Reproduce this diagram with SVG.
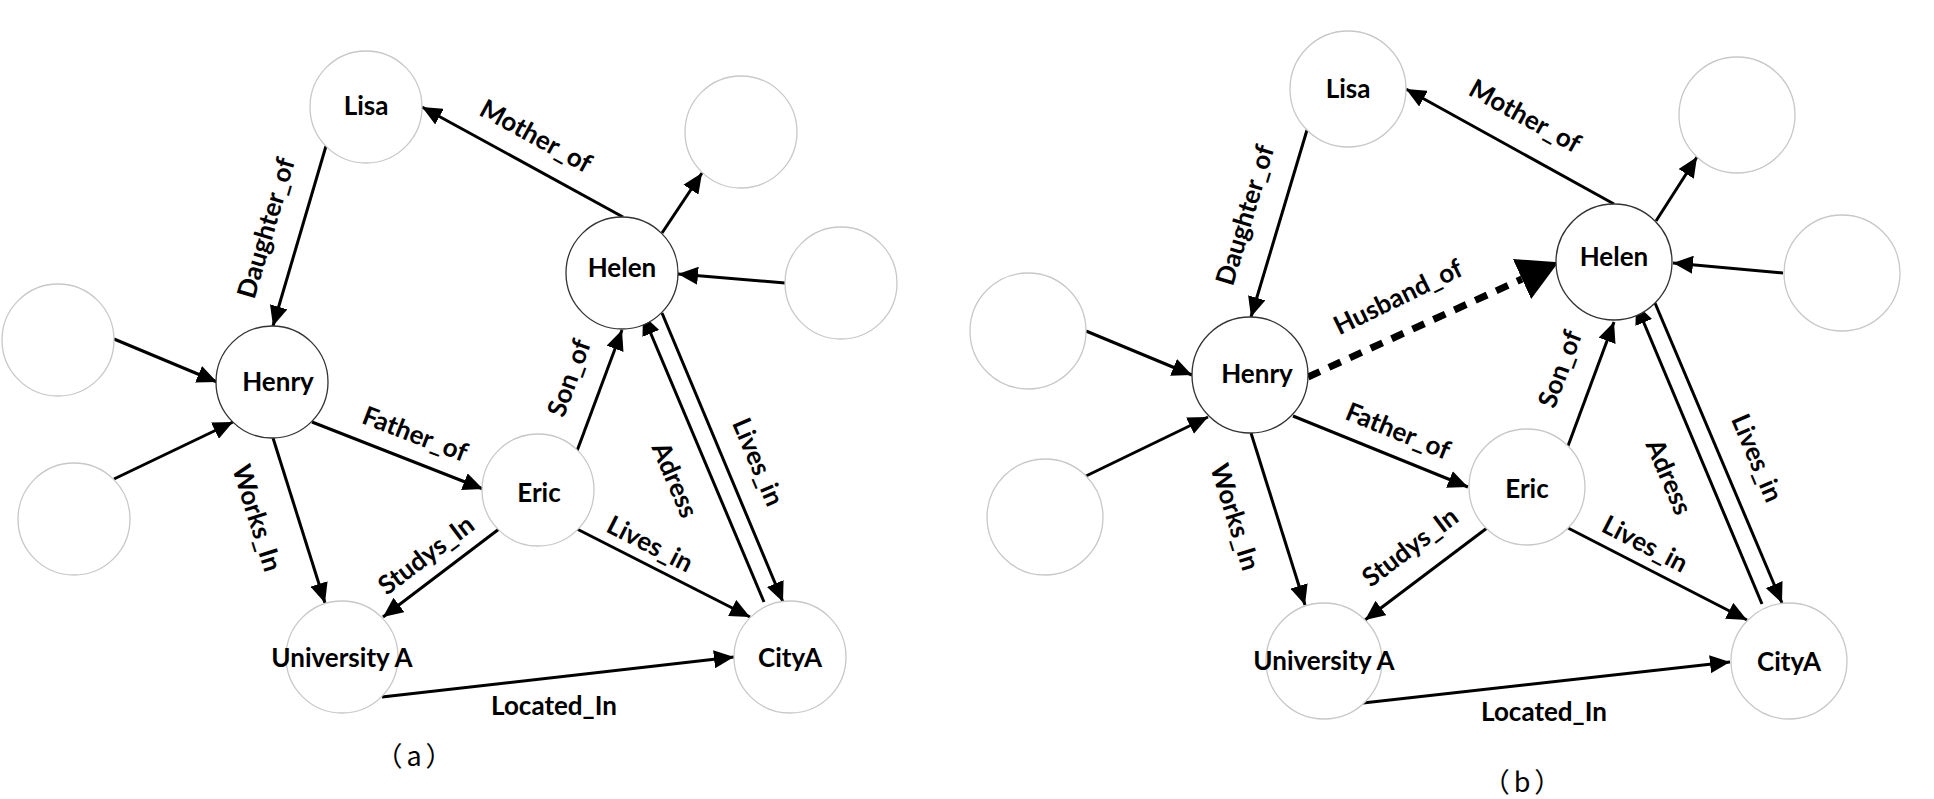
<svg xmlns="http://www.w3.org/2000/svg" width="1934" height="799" viewBox="0 0 1934 799">
<style>
.n{fill:#fff;stroke:#c8c8c8;stroke-width:1.3}
.k{fill:#fff;stroke:#333;stroke-width:1.3}
.t{font-family:Lato,"Liberation Sans",sans-serif;font-weight:bold;font-size:26px;fill:#000;text-anchor:middle}
.e{stroke:#000;stroke-width:3;fill:none;marker-end:url(#ah)}
.d{stroke:#000;stroke-width:7;fill:none;stroke-dasharray:13 10;marker-end:url(#big)}
.c{font-family:"Noto Sans CJK SC","Noto Sans",sans-serif;font-size:27px;fill:#000;text-anchor:middle;letter-spacing:4px}
</style>
<defs>
<marker id="ah" markerUnits="userSpaceOnUse" markerWidth="20" markerHeight="18" refX="20" refY="9" orient="auto" viewBox="0 0 20 18"><path d="M0,0 L20,9 L0,18 z" fill="#000"/></marker>
<marker id="big" markerUnits="userSpaceOnUse" markerWidth="40" markerHeight="44" refX="0" refY="22" orient="auto" viewBox="0 0 40 44"><path d="M0,0 L40,22 L0,44 z" fill="#000"/></marker>
</defs>
<rect width="1934" height="799" fill="#fff"/>

<g id="connectors">
<!-- panel a -->
<line class="e" x1="623" y1="217" x2="422" y2="107"/>
<line class="e" x1="326" y1="146" x2="273" y2="326"/>
<line class="e" x1="114" y1="339" x2="217" y2="382"/>
<line class="e" x1="114" y1="479" x2="233" y2="422"/>
<line class="e" x1="273" y1="438" x2="325" y2="603"/>
<line class="e" x1="312" y1="422" x2="483" y2="489"/>
<line class="e" x1="499" y1="529" x2="383" y2="617"/>
<line class="e" x1="577" y1="529" x2="750" y2="617"/>
<line class="e" x1="382" y1="697" x2="734" y2="657"/>
<line class="e" x1="577" y1="451" x2="622" y2="330"/>
<line class="e" x1="764" y1="602" x2="643" y2="315"/>
<line class="e" x1="662" y1="313" x2="783" y2="602"/>
<line class="e" x1="662" y1="233" x2="702" y2="173"/>
<line class="e" x1="785" y1="283" x2="678" y2="274"/>
<!-- panel b -->
<line class="e" x1="1614" y1="204" x2="1406" y2="89"/>
<line class="e" x1="1307" y1="130" x2="1251" y2="317"/>
<line class="e" x1="1086" y1="331" x2="1192" y2="375"/>
<line class="e" x1="1086" y1="476" x2="1208" y2="417"/>
<line class="d" x1="1308" y1="377" x2="1522" y2="279"/>
<line class="e" x1="1251" y1="433" x2="1305" y2="605"/>
<line class="e" x1="1293" y1="416" x2="1468" y2="487"/>
<line class="e" x1="1487" y1="528" x2="1365" y2="620"/>
<line class="e" x1="1568" y1="528" x2="1747" y2="620"/>
<line class="e" x1="1363" y1="703" x2="1730" y2="662"/>
<line class="e" x1="1568" y1="446" x2="1614" y2="322"/>
<line class="e" x1="1762" y1="604" x2="1636" y2="304"/>
<line class="e" x1="1655" y1="303" x2="1782" y2="603"/>
<line class="e" x1="1656" y1="221" x2="1697" y2="157"/>
<line class="e" x1="1783" y1="273" x2="1673" y2="263"/>
</g>

<g id="edge-labels">
<text class="t" transform="translate(536,136) rotate(28.7)" y="9">Mother_of</text>
<text class="t" transform="translate(266,228) rotate(-73.6)" y="9">Daughter_of</text>
<text class="t" transform="translate(257,518) rotate(72.5)" y="9">Works_In</text>
<text class="t" transform="translate(415,434) rotate(21)" y="9">Father_of</text>
<text class="t" transform="translate(426,555) rotate(-37)" y="9">Studys_In</text>
<text class="t" transform="translate(650,544) rotate(27)" y="9">Lives_in</text>
<text class="t" x="554" y="715">Located_In</text>
<text class="t" transform="translate(569,378) rotate(-70)" y="9">Son_of</text>
<text class="t" transform="translate(675,480) rotate(67)" y="9">Adress</text>
<text class="t" transform="translate(758,462) rotate(67)" y="9">Lives_in</text>

<text class="t" transform="translate(1525,116) rotate(28.9)" y="9">Mother_of</text>
<text class="t" transform="translate(1245,215) rotate(-73.3)" y="9">Daughter_of</text>
<text class="t" transform="translate(1398,297) rotate(-26)" y="9">Husband_of</text>
<text class="t" transform="translate(1235,517) rotate(72.6)" y="9">Works_In</text>
<text class="t" transform="translate(1398,431) rotate(22)" y="9">Father_of</text>
<text class="t" transform="translate(1410,547) rotate(-37)" y="9">Studys_In</text>
<text class="t" transform="translate(1645,544) rotate(27.3)" y="9">Lives_in</text>
<text class="t" x="1544" y="721">Located_In</text>
<text class="t" transform="translate(1560,369) rotate(-69.6)" y="9">Son_of</text>
<text class="t" transform="translate(1669,477) rotate(67)" y="9">Adress</text>
<text class="t" transform="translate(1757,458) rotate(67)" y="9">Lives_in</text>
</g>

<g id="a-lisa"><circle class="n" cx="366" cy="107" r="56"/><text class="t" x="366" y="115">Lisa</text></g>
<g id="a-empty1"><circle class="n" cx="58" cy="340" r="56"/></g>
<g id="a-henry"><circle class="k" cx="272" cy="382" r="56"/><text class="t" x="278" y="391">Henry</text></g>
<g id="a-empty2"><circle class="n" cx="74" cy="519" r="56"/></g>
<g id="a-university"><circle class="n" cx="342" cy="657" r="56"/><text class="t" x="342" y="667">University A</text></g>
<g id="a-eric"><circle class="n" cx="538" cy="490" r="56"/><text class="t" x="539" y="502">Eric</text></g>
<g id="a-citya"><circle class="n" cx="790" cy="657" r="56"/><text class="t" x="790" y="667">CityA</text></g>
<g id="a-helen"><circle class="k" cx="622" cy="273" r="56"/><text class="t" x="622" y="277">Helen</text></g>
<g id="a-empty3"><circle class="n" cx="741" cy="132" r="56"/></g>
<g id="a-empty4"><circle class="n" cx="841" cy="283" r="56"/></g>

<g id="b-lisa"><circle class="n" cx="1348" cy="89" r="58"/><text class="t" x="1348" y="98">Lisa</text></g>
<g id="b-empty1"><circle class="n" cx="1028" cy="331" r="58"/></g>
<g id="b-henry"><circle class="k" cx="1250" cy="375" r="58"/><text class="t" x="1257" y="383">Henry</text></g>
<g id="b-empty2"><circle class="n" cx="1045" cy="517" r="58"/></g>
<g id="b-university"><circle class="n" cx="1324" cy="661" r="58"/><text class="t" x="1324" y="670">University A</text></g>
<g id="b-eric"><circle class="n" cx="1527" cy="487" r="58"/><text class="t" x="1527" y="498">Eric</text></g>
<g id="b-citya"><circle class="n" cx="1789" cy="661" r="58"/><text class="t" x="1789" y="671">CityA</text></g>
<g id="b-helen"><circle class="k" cx="1614" cy="262" r="58"/><text class="t" x="1614" y="266">Helen</text></g>
<g id="b-empty3"><circle class="n" cx="1737" cy="115" r="58"/></g>
<g id="b-empty4"><circle class="n" cx="1842" cy="273" r="58"/></g>

<g id="captions">
<text class="c" x="416" y="766">（a）</text>
<text class="c" x="1524" y="792">（b）</text>
</g>
</svg>
